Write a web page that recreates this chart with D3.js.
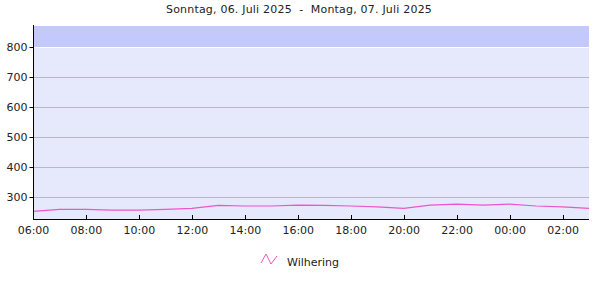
<!DOCTYPE html>
<html>
<head>
<meta charset="utf-8">
<script src="https://cdn.jsdelivr.net/npm/d3@7"></script>
<style>
  body { margin: 0; background: #fff; }
  text { font-family: "DejaVu Sans", Verdana, sans-serif; }
</style>
</head>
<body>
<svg id="chart" width="600" height="300"></svg>
<script>
// hourly values, 06:00 on 06.07 to 03:00 on 07.07
const hours = d3.range(0, 22); // hours after 06:00
const values = [252, 259, 259, 256, 256, 259, 262, 272, 270, 270, 273,
                272, 270, 267, 262, 273, 276, 273, 276, 270, 267, 262];
const yTicks = [300, 400, 500, 600, 700, 800];
const xTickLabels = ["06:00", "08:00", "10:00", "12:00", "14:00", "16:00",
                     "18:00", "20:00", "22:00", "00:00", "02:00"];
const seriesName = "Wilhering";
const title = "Sonntag, 06. Juli 2025  -  Montag, 07. Juli 2025";

const svg = d3.select("#chart");
const mLeft = 33, mRight = 589, mTop = 26, mBottom = 219;

const x = d3.scaleLinear().domain([0, 21]).range([mLeft, mRight]);
const y = d3.scaleLinear().domain([226.7, 870]).range([mBottom, mTop]);

// background, darker band above 800
svg.append("rect")
  .attr("x", mLeft).attr("y", mTop)
  .attr("width", mRight - mLeft).attr("height", mBottom - mTop)
  .attr("fill", "#e6e8fc");
svg.append("rect")
  .attr("x", mLeft).attr("y", mTop)
  .attr("width", mRight - mLeft).attr("height", y(800) - mTop)
  .attr("fill", "#c4c9fb");

// gridlines
svg.append("g")
  .selectAll("line")
  .data(yTicks)
  .join("line")
  .attr("x1", mLeft).attr("x2", mRight)
  .attr("y1", d => Math.round(y(d)) + 0.5).attr("y2", d => Math.round(y(d)) + 0.5)
  .attr("stroke", d => d === 800 ? "#ffffff" : "#b8b8c4")
  .attr("stroke-width", 1);

// line
const line = d3.line()
  .x((d, i) => x(hours[i]))
  .y(d => y(d));
svg.append("path")
  .datum(values)
  .attr("d", line)
  .attr("fill", "none")
  .attr("stroke", "#ee55c8")
  .attr("stroke-width", 1.2);

// y axis
const yAxis = d3.axisLeft(y).tickValues(yTicks).tickSize(4).tickFormat(d3.format("d"));
svg.append("g")
  .attr("transform", `translate(${mLeft + 0.5},0)`)
  .call(yAxis)
  .call(g => g.select(".domain").attr("d", `M0,${mTop - 1}V${mBottom}`).attr("stroke", "#000"))
  .call(g => g.selectAll("text").attr("font-size", 11).attr("fill", "#222").attr("dx", 1))
  .call(g => g.selectAll(".tick line").attr("stroke", "#000"));

// x axis
const xAxis = d3.axisBottom(x)
  .tickValues(d3.range(0, 21, 2))
  .tickSize(0)
  .tickFormat((d, i) => xTickLabels[i]);
svg.append("g")
  .attr("transform", `translate(0,${mBottom + 0.5})`)
  .call(xAxis)
  .call(g => g.select(".domain").attr("d", `M${mLeft},0H${mRight}`).attr("stroke", "#000"))
  .call(g => g.selectAll("text").attr("font-size", 11).attr("fill", "#222").attr("dy", "1.05em"));
// small upward ticks
svg.append("g")
  .selectAll("line")
  .data(d3.range(2, 21, 2))
  .join("line")
  .attr("x1", d => Math.round(x(d)) + 0.5).attr("x2", d => Math.round(x(d)) + 0.5)
  .attr("y1", mBottom - 4).attr("y2", mBottom)
  .attr("stroke", "#000");

// title
svg.append("text")
  .attr("x", 299).attr("y", 13)
  .attr("text-anchor", "middle")
  .attr("font-size", 11)
  .attr("letter-spacing", 0.2)
  .attr("fill", "#222")
  .attr("xml:space", "preserve")
  .text(title);

// legend
svg.append("path")
  .attr("d", "M261,263L266,254L271,264L277,256")
  .attr("fill", "none")
  .attr("stroke", "#ee55c8")
  .attr("stroke-width", 1);
svg.append("text")
  .attr("x", 287).attr("y", 266)
  .attr("font-size", 11)
  .attr("fill", "#222")
  .text(seriesName);
</script>
</body>
</html>
